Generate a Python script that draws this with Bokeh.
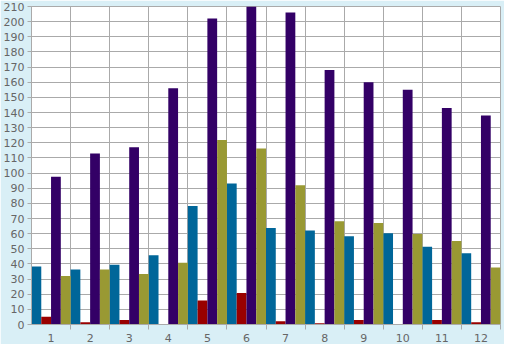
from bokeh.plotting import figure
from bokeh.models import ColumnDataSource, FixedTicker, Range1d
from bokeh.transform import dodge
from bokeh.embed import file_html
from bokeh.resources import INLINE

categories = ["1", "2", "3", "4", "5", "6", "7", "8", "9", "10", "11", "12"]
blue_vals = [38.3, 36.4, 39.5, 45.7, 78.2, 93.1, 63.8, 62.0, 58.2, 60.3, 51.4, 47.0]
red_vals = [5.2, 1.5, 2.9, 0.4, 15.8, 20.8, 2.1, 0.8, 2.9, 0.2, 2.9, 1.5]
purple_vals = [97.5, 113.0, 117.0, 156.0, 202.0, 210.0, 206.0, 168.0, 160.0, 155.0, 143.0, 138.0]
olive_vals = [32.0, 36.4, 33.3, 40.7, 121.8, 116.3, 91.9, 68.2, 67.0, 59.7, 55.1, 37.6]
y_ticks = list(range(0, 211, 10))

centers = [i + 0.5 for i in range(len(categories))]
source = ColumnDataSource(dict(x=centers, blue=blue_vals, red=red_vals,
                               purple=purple_vals, olive=olive_vals))

BG = "#d9eff6"
GRID = "#aaaaaa"

p = figure(width=504, height=344, output_backend="svg", toolbar_location=None,
           x_range=Range1d(0, len(categories)), y_range=Range1d(0, 210),
           min_border_left=22, min_border_right=4, min_border_top=6, min_border_bottom=4)

p.background_fill_color = "white"
p.border_fill_color = BG
p.outline_line_color = GRID

series = [("blue", "#006699", -0.375), ("red", "#990000", -0.125),
          ("purple", "#330066", 0.125), ("olive", "#999933", 0.375)]
for col, color, off in series:
    p.vbar(x=dodge("x", off), top=col, width=0.25, bottom=0, source=source,
           fill_color=color, line_color=None)

# x axis: labels centered, tick marks at boundaries
p.xaxis.ticker = FixedTicker(ticks=centers, minor_ticks=list(range(1, len(categories) + 1)))
p.xaxis.major_label_overrides = {c: lab for c, lab in zip(centers, categories)}
p.xaxis.major_tick_line_color = None
p.xaxis.minor_tick_line_color = GRID
p.xaxis.minor_tick_out = 5
p.xaxis.minor_tick_in = 0
p.xgrid.ticker = FixedTicker(ticks=list(range(0, len(categories) + 1)))

p.yaxis.ticker = FixedTicker(ticks=y_ticks)
p.yaxis.minor_tick_line_color = None
p.yaxis.major_tick_out = 4
p.yaxis.major_tick_in = 0
p.yaxis.major_tick_line_color = GRID

for ax in (p.xaxis, p.yaxis):
    ax.axis_line_color = GRID
    ax.major_label_text_color = "#666666"
    ax.major_label_text_font = "DejaVu Sans"
    ax.major_label_text_font_size = "11px"
    ax.major_label_standoff = 3

p.grid.grid_line_color = GRID
p.grid.grid_line_alpha = 1.0

open("out.html", "w").write(file_html(p, INLINE))
